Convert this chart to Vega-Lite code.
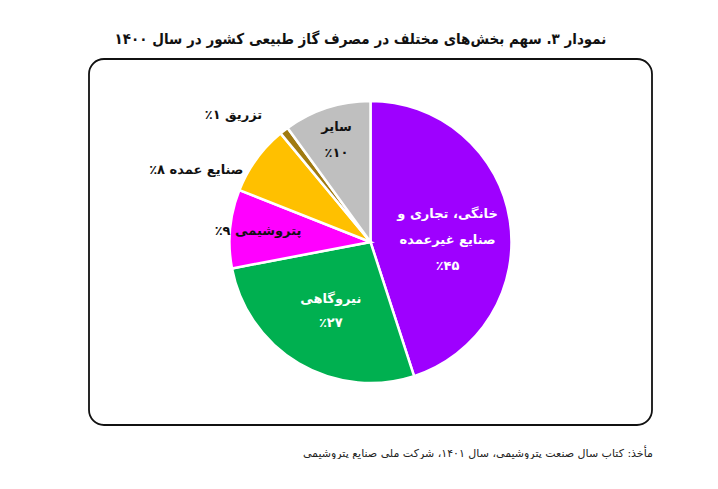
{
  "$schema": "https://vega.github.io/schema/vega-lite/v6.json",
  "padding": {"left": 88, "top": 32, "right": 0, "bottom": 0},
  "background": "white",
  "title": {
    "text": "نمودار ۳. سهم بخش‌های مختلف در مصرف گاز طبیعی کشور در سال ۱۴۰۰",
    "font": "DejaVu Sans Condensed",
    "fontSize": 15,
    "fontWeight": "bold",
    "color": "#111111",
    "anchor": "middle",
    "dx": -10,
    "offset": 11
  },
  "config": {
    "view": {"stroke": null},
    "text": {"font": "DejaVu Sans"}
  },
  "datasets": {
    "gas": [
      {"i": 1, "sector": "خانگی، تجاری و صنایع غیرعمده", "share": 45, "label": "خانگی، تجاری و\nصنایع غیرعمده\n٪۴۵"},
      {"i": 2, "sector": "نیروگاهی", "share": 27, "label": "نیروگاهی\n٪۲۷"},
      {"i": 3, "sector": "پتروشیمی", "share": 9, "label": "پتروشیمی ۹٪\u200f"},
      {"i": 4, "sector": "صنایع عمده", "share": 8, "label": "صنایع عمده ۸٪\u200f"},
      {"i": 5, "sector": "تزریق", "share": 1, "label": "تزریق ۱٪\u200f"},
      {"i": 6, "sector": "سایر", "share": 10, "label": "سایر\n٪۱۰"}
    ]
  },
  "vconcat": [
    {
      "width": 563,
      "height": 366,
      "title": {
        "text": "مأخذ: کتاب سال صنعت پتروشیمی، سال ۱۴۰۱، شرکت ملی صنایع پتروشیمی",
        "orient": "bottom",
        "anchor": "end",
        "font": "DejaVu Sans",
        "fontSize": 11,
        "fontWeight": "normal",
        "color": "#222222",
        "offset": 22
      },
      "layer": [
        {
          "data": {"values": [{}]},
          "mark": {"type": "rect", "fill": null, "stroke": "#111111", "strokeWidth": 1.8, "cornerRadius": 15}
        },
        {
          "data": {"name": "gas"},
          "mark": {"type": "arc", "outerRadius": 141, "stroke": "white", "strokeWidth": 2.5},
          "encoding": {
            "theta": {"field": "share", "type": "quantitative", "stack": true},
            "order": {"field": "i", "type": "quantitative"},
            "color": {
              "field": "sector",
              "type": "nominal",
              "legend": null,
              "scale": {
                "domain": ["خانگی، تجاری و صنایع غیرعمده", "نیروگاهی", "پتروشیمی", "صنایع عمده", "تزریق", "سایر"],
                "range": ["#9E00FF", "#00B050", "#FF00FF", "#FFC000", "#A07A10", "#BFBFBF"]
              }
            }
          }
        },
        {
          "data": {"name": "gas"},
          "mark": {"type": "text", "radius": 78, "dy": -16, "fontSize": 13, "fontWeight": "bold", "color": "white", "lineBreak": "\n", "lineHeight": 26, "align": "center", "baseline": "middle"},
          "encoding": {
            "theta": {"field": "share", "type": "quantitative", "stack": true},
            "order": {"field": "i", "type": "quantitative"},
            "detail": {"field": "sector", "type": "nominal"},
            "text": {"condition": {"test": "datum.i == 1", "field": "label"}, "value": ""}
          }
        },
        {
          "data": {"name": "gas"},
          "mark": {"type": "text", "radius": 78, "dy": -10, "fontSize": 13, "fontWeight": "bold", "color": "white", "lineBreak": "\n", "lineHeight": 24, "align": "center", "baseline": "middle"},
          "encoding": {
            "theta": {"field": "share", "type": "quantitative", "stack": true},
            "order": {"field": "i", "type": "quantitative"},
            "detail": {"field": "sector", "type": "nominal"},
            "text": {"condition": {"test": "datum.i == 2", "field": "label"}, "value": ""}
          }
        },
        {
          "data": {"name": "gas"},
          "mark": {"type": "text", "radius": 110, "dy": -10, "fontSize": 13, "fontWeight": "bold", "color": "#111111", "lineBreak": "\n", "lineHeight": 26, "align": "center", "baseline": "middle"},
          "encoding": {
            "theta": {"field": "share", "type": "quantitative", "stack": true},
            "order": {"field": "i", "type": "quantitative"},
            "detail": {"field": "sector", "type": "nominal"},
            "text": {"condition": {"test": "datum.i == 6", "field": "label"}, "value": ""}
          }
        },
        {
          "data": {"name": "gas"},
          "mark": {"type": "text", "radius": 113, "fontSize": 13, "fontWeight": "bold", "color": "#111111", "align": "center", "baseline": "middle"},
          "encoding": {
            "theta": {"field": "share", "type": "quantitative", "stack": true},
            "order": {"field": "i", "type": "quantitative"},
            "detail": {"field": "sector", "type": "nominal"},
            "text": {"condition": {"test": "datum.i == 3", "field": "label"}, "value": ""}
          }
        },
        {
          "data": {"name": "gas"},
          "mark": {"type": "text", "radius": 146, "dx": -9, "dy": 14, "fontSize": 13, "fontWeight": "bold", "color": "#111111", "align": "right", "baseline": "middle"},
          "encoding": {
            "theta": {"field": "share", "type": "quantitative", "stack": true},
            "order": {"field": "i", "type": "quantitative"},
            "detail": {"field": "sector", "type": "nominal"},
            "text": {"condition": {"test": "datum.i == 4", "field": "label"}, "value": ""}
          }
        },
        {
          "data": {"name": "gas"},
          "mark": {"type": "text", "radius": 167, "dx": -6, "dy": 5, "fontSize": 13, "fontWeight": "bold", "color": "#111111", "align": "right", "baseline": "middle"},
          "encoding": {
            "theta": {"field": "share", "type": "quantitative", "stack": true},
            "order": {"field": "i", "type": "quantitative"},
            "detail": {"field": "sector", "type": "nominal"},
            "text": {"condition": {"test": "datum.i == 5", "field": "label"}, "value": ""}
          }
        }
      ]
    }
  ]
}
